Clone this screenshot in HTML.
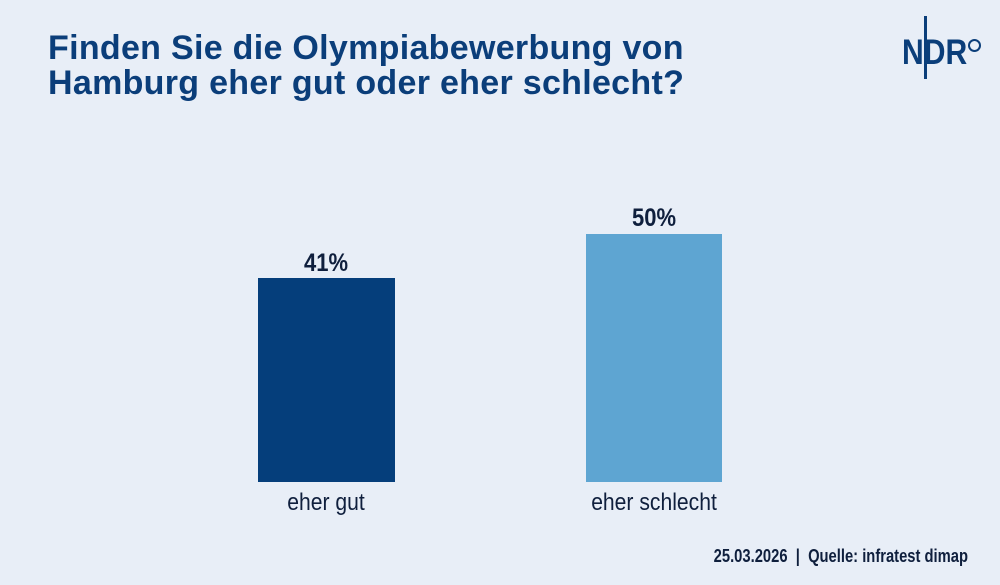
<!DOCTYPE html>
<html><head><meta charset="utf-8"><style>
body{margin:0;width:1000px;height:585px;background:#e8eef7;position:relative;overflow:hidden;font-family:"Liberation Sans",sans-serif}
.t{position:absolute;left:48px;top:31px;font-size:34px;font-weight:bold;color:#0b3e7a;line-height:35px;letter-spacing:0.3px;white-space:nowrap}
.bar{position:absolute}
.n{position:absolute;color:#0f1f3d;text-align:center;width:200px;white-space:nowrap;transform:scaleX(0.88)}
</style></head><body>
<div class="t">Finden Sie die Olympiabewerbung von<br>Hamburg eher gut oder eher schlecht?</div>
<div style="position:absolute;left:924px;top:16px;width:3px;height:63px;background:#0b3e7a"></div>
<div style="position:absolute;left:902px;top:33px;width:90px;font-size:35px;font-weight:bold;color:#0b3e7a;white-space:nowrap;transform:scaleX(0.86);transform-origin:0 0">NDR</div>
<div style="position:absolute;left:968px;top:39px;width:13px;height:13px;border:2px solid #0b3e7a;border-radius:50%;box-sizing:border-box"></div>
<div class="bar" style="left:258px;top:278px;width:137px;height:204px;background:#053e7b"></div>
<div class="bar" style="left:586px;top:234px;width:136px;height:248px;background:#5ea5d2"></div>
<div class="n" style="left:226px;top:249px;font-size:25px;font-weight:bold">41%</div>
<div class="n" style="left:554px;top:204px;font-size:25px;font-weight:bold">50%</div>
<div class="n" style="left:226px;top:489px;font-size:24px">eher gut</div>
<div class="n" style="left:554px;top:489px;font-size:24px">eher schlecht</div>
<div class="n" style="left:568px;top:546px;width:400px;text-align:right;font-size:18px;font-weight:bold;transform:scaleX(0.82);transform-origin:100% 0">25.03.2026 &nbsp;|&nbsp; Quelle: infratest dimap</div>
</body></html>
